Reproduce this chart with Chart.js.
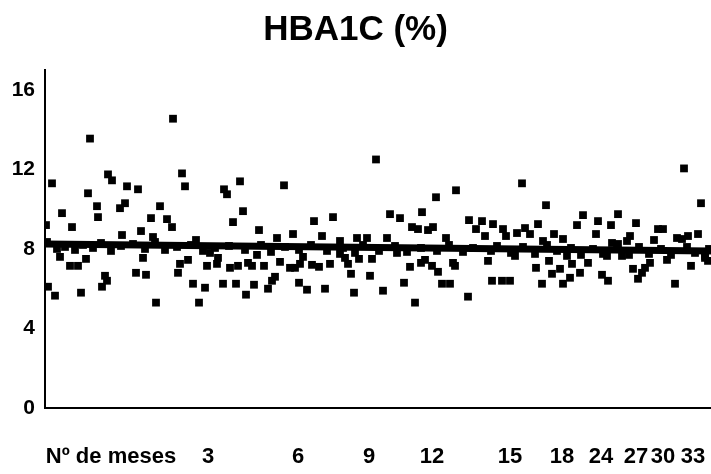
<!DOCTYPE html>
<html>
<head>
<meta charset="utf-8">
<script src="https://cdn.jsdelivr.net/npm/chart.js@4.4.1/dist/chart.umd.min.js"></script>
<style>
    html, body { margin: 0; padding: 0; background: #fff; }
    #wrap { width: 711px; height: 474px; }
</style>
</head>
<body>
<div id="wrap"><canvas id="chart" width="711" height="474"></canvas></div>
<script>
// Follow-up order (0..666 along the axis) and HbA1c (%) of each measurement
const pointX = [
    45, 7, 63, 67, 82, 93, 43, 52, 80, 75, 17, 53, 106, 115, 1, 27, 96, 77, 108, 15, 41, 25, 33, 98, 60, 62, 57, 91, 101, 3, 10, 36, 111,
    128, 137, 140, 195, 179, 182, 198, 122, 127, 188, 214, 151, 165, 173, 143, 135, 133, 162, 172, 185, 193, 203, 207, 212, 219, 148, 160, 178, 191, 209, 201, 223, 227, 154,
    331, 239, 269, 288, 345, 248, 232, 277, 295, 312, 322, 342, 258, 255, 245, 250, 235, 267, 274, 285, 295, 300, 303, 306, 314, 327, 325, 230, 254, 262, 280, 309, 338,
    411, 391, 377, 355, 367, 373, 383, 388, 424, 437, 448, 431, 440, 458, 401, 352, 365, 376, 380, 387, 393, 408, 410, 443, 359, 397, 405, 447, 457, 465, 370, 423,
    477, 501, 538, 553, 566, 493, 480, 472, 461, 485, 532, 551, 509, 498, 518, 470, 522, 527, 543, 504, 515, 507, 491, 535, 525, 518, 497, 557, 563,
    639, 656, 573, 591, 613, 618, 585, 582, 643, 653, 632, 637, 609, 567, 573, 562, 577, 622, 660, 663, 646, 605, 600, 597, 593, 588, 630,
    2, 12, 20, 30, 38, 48, 56, 66, 76, 88, 100, 110, 120, 132, 146, 158, 170, 184, 200, 216, 226, 240, 254, 266, 282, 298, 310, 318, 334,
    350, 362, 376, 392, 404, 418, 428, 446, 452, 466, 478, 490, 502, 512, 526, 536, 548, 558, 572, 584, 594, 604, 616, 626, 642, 650, 660, 664
];
const pointY = [
    13.55, 11.3, 11.75, 11.45, 11.15, 11.0, 10.8, 10.15, 10.3, 10.05, 9.8, 9.6, 9.55, 10.15, 9.2, 9.1, 8.9, 8.7, 8.6, 7.6, 7.5, 7.15, 7.15, 7.55, 6.65, 6.4, 6.1, 6.8, 6.7, 6.1, 5.65, 5.8, 5.3,
    14.55, 11.8, 11.15, 11.4, 11.0, 10.75, 9.9, 9.5, 9.1, 9.35, 8.95, 8.45, 7.8, 7.55, 7.45, 7.25, 6.8, 7.15, 7.25, 7.05, 7.15, 7.3, 7.15, 7.7, 7.15, 6.25, 6.05, 6.25, 6.25, 6.2, 5.7, 6.0, 6.4, 5.3,
    12.5, 11.2, 9.4, 9.6, 9.75, 8.75, 8.55, 8.65, 8.4, 8.55, 8.55, 8.55, 7.6, 7.25, 7.05, 7.05, 7.35, 7.2, 7.1, 7.25, 7.75, 7.55, 7.25, 6.75, 7.5, 7.5, 6.65, 6.6, 6.3, 5.95, 6.0, 5.8, 5.9,
    10.95, 10.6, 9.85, 9.55, 9.1, 9.0, 8.95, 9.1, 9.45, 9.4, 9.25, 9.0, 8.65, 9.0, 8.55, 7.8, 7.1, 7.3, 7.45, 7.15, 6.85, 7.3, 7.15, 7.4, 6.3, 6.25, 6.25, 6.4, 6.4, 6.4, 5.3, 5.6,
    11.3, 10.2, 9.7, 9.4, 9.2, 9.25, 9.05, 8.8, 8.65, 8.75, 9.2, 8.75, 8.75, 8.4, 8.5, 7.65, 7.65, 7.25, 7.3, 7.4, 7.0, 6.75, 7.05, 6.8, 6.55, 6.25, 6.25, 6.7, 6.4,
    12.05, 10.3, 9.75, 9.3, 9.0, 9.0, 8.65, 8.4, 8.65, 8.75, 8.55, 8.5, 8.45, 8.3, 8.25, 7.65, 7.65, 7.45, 7.55, 7.4, 7.15, 7.3, 7.05, 6.8, 6.5, 7.0, 6.25,
    8.35, 8.0, 8.1, 7.95, 8.2, 8.05, 8.3, 7.9, 8.15, 8.25, 8.0, 8.35, 7.95, 8.1, 8.2, 7.9, 8.05, 8.15, 7.95, 8.2, 7.85, 8.1, 7.95, 8.2, 7.9, 8.05, 7.8, 8.2, 7.9,
    8.15, 7.85, 8.05, 7.9, 8.2, 7.85, 8.05, 7.9, 8.15, 7.8, 8.1, 7.75, 8.2, 7.9, 8.05, 7.7, 8.0, 7.75, 8.05, 7.7, 8.1, 7.75, 8.0, 7.7, 8.1, 7.8, 7.65, 8.0
];

// Regression line ends
const trendX = [0, 666];
const trendY = [8.25, 7.9];

const yTicks = [0, 4, 8, 12, 16];
const monthLabels = ['Nº de meses', '3', '6', '9', '12', '15', '18', '24', '27', '30', '33'];
const monthPos = [66, 163, 253, 324, 387, 465, 517, 556, 591, 618, 648];

const FONT = "'Liberation Sans', Arial, sans-serif";
const scatterData = pointX.map((x, i) => ({ x: x, y: pointY[i] }));
const trendData = trendX.map((x, i) => ({ x: x, y: trendY[i] }));

new Chart(document.getElementById('chart').getContext('2d'), {
    type: 'scatter',
    data: {
        datasets: [
            {
                data: scatterData,
                pointStyle: 'rect',
                pointRadius: 5.5,
                backgroundColor: '#000',
                borderWidth: 0
            },
            {
                data: trendData,
                showLine: true,
                borderColor: '#000',
                borderWidth: 7,
                pointRadius: 0
            }
        ]
    },
    options: {
        responsive: false,
        animation: false,
        layout: { autoPadding: false, padding: 0 },
        plugins: {
            legend: { display: false },
            tooltip: { enabled: false },
            title: {
                display: true,
                text: 'HBA1C (%)',
                color: '#000',
                font: { family: FONT, size: 35, weight: 'bold' },
                padding: { top: 9, bottom: 19 }
            }
        },
        scales: {
            x: {
                type: 'linear',
                min: 0,
                max: 666,
                grid: { display: false, drawTicks: false },
                border: { display: true, color: '#000', width: 2 },
                ticks: {
                    autoSkip: false,
                    maxRotation: 0,
                    padding: 36,
                    color: '#000',
                    font: { family: FONT, size: 22, weight: 'bold' },
                    callback: (v) => {
                        const i = monthPos.indexOf(v);
                        return i >= 0 ? monthLabels[i] : '';
                    }
                },
                afterBuildTicks: (axis) => { axis.ticks = monthPos.map(v => ({ value: v })); },
                afterFit: (s) => {
                    s.height = 66;
                    s.paddingLeft = 0;
                    s.paddingRight = 0;
                }
            },
            y: {
                min: 0,
                max: 17,
                grid: { display: false, drawTicks: false },
                border: { display: true, color: '#000', width: 2 },
                ticks: {
                    padding: 10,
                    color: '#000',
                    font: { family: FONT, size: 21, weight: 'bold' }
                },
                afterBuildTicks: (axis) => { axis.ticks = yTicks.map(v => ({ value: v })); },
                afterFit: (s) => { s.width = 45; }
            }
        }
    }
});
</script>
</body>
</html>
